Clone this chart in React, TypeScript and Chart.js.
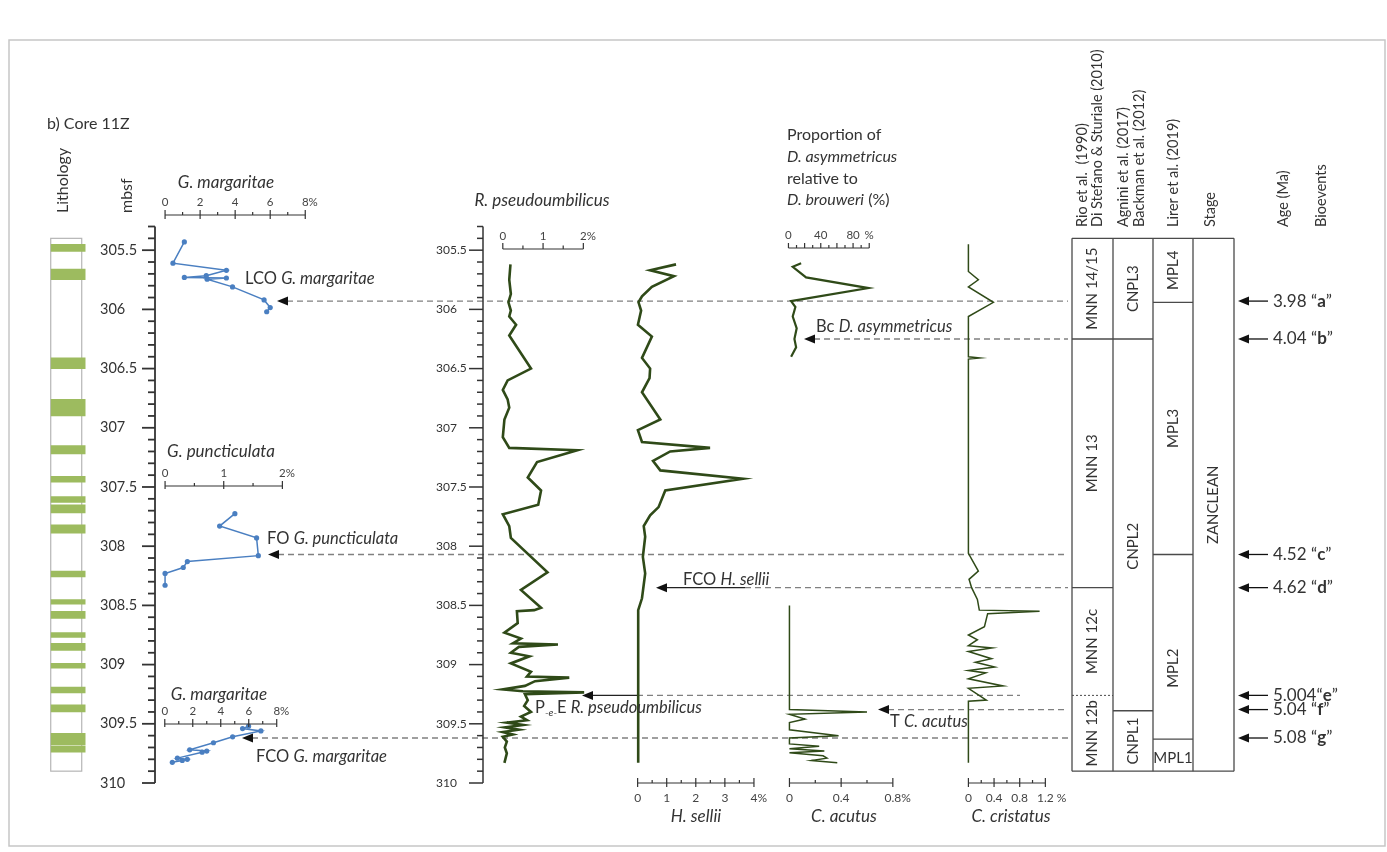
import React, { useEffect, useRef } from 'react';
import { Chart, registerables } from 'chart.js';

Chart.register(...registerables);

// ---------------- DATA ----------------
// depth axis
const DEPTH_MIN = 305.3;
const DEPTH_MAX = 310;
const depthTickLabels = ['305.5', '306', '306.5', '307', '307.5', '308', '308.5', '309', '309.5', '310'];

// lithology: green (sapropel-like) beds [top, bottom] in mbsf
const lithoTop = 305.4;
const lithoBottom = 309.9;
const lithoBeds: [number, number][] = [
  [305.45, 305.51], [305.66, 305.75], [306.41, 306.5], [306.76, 306.9], [307.15, 307.22],
  [307.41, 307.46], [307.58, 307.63], [307.65, 307.72], [307.82, 307.89], [308.21, 308.26],
  [308.45, 308.49], [308.55, 308.61], [308.73, 308.77], [308.82, 308.88], [308.99, 309.03],
  [309.19, 309.24], [309.34, 309.4], [309.58, 309.68], [309.69, 309.74],
];

// [depth, %]
const gMargaritaeUpper: [number, number][] = [
  [305.43, 1.1], [305.61, 0.45], [305.67, 3.5], [305.715, 2.35], [305.73, 1.1], [305.735, 3.5],
  [305.745, 2.4], [305.81, 3.85], [305.92, 5.65], [305.985, 6.0], [306.02, 5.8],
];
const gPuncticulata: [number, number][] = [
  [307.725, 1.19], [307.83, 0.93], [307.93, 1.56], [308.08, 1.59], [308.13, 0.38],
  [308.18, 0.31], [308.23, 0.0], [308.33, 0.0],
];
const gMargaritaeLower: [number, number][] = [
  [309.52, 5.99], [309.54, 5.56], [309.56, 6.87], [309.61, 4.85], [309.66, 3.48], [309.72, 1.78],
  [309.73, 3.0], [309.74, 2.67], [309.79, 0.9], [309.8, 1.61], [309.81, 1.25], [309.825, 0.54],
];
const rPseudoumbilicus: [number, number][] = [
  [305.62, 0.19], [305.75, 0.16], [305.87, 0.2], [305.94, 0.14], [306.01, 0.2], [306.06, 0.16],
  [306.13, 0.33], [306.22, 0.16], [306.5, 0.7], [306.6, 0.12], [306.68, 0.0], [306.76, 0.12],
  [306.83, 0.16], [306.93, 0.04], [307.08, 0.0], [307.17, 0.16], [307.19, 1.85], [307.29, 0.85],
  [307.42, 0.62], [307.53, 0.95], [307.65, 0.88], [307.73, 0.0], [307.83, 0.16], [307.93, 0.2],
  [308.22, 1.11], [308.37, 0.45], [308.52, 0.95], [308.54, 0.78], [308.55, 0.35], [308.65, 0.37],
  [308.73, 0.04], [308.78, 0.45], [308.82, 0.25], [308.83, 1.37], [308.85, 0.4], [308.9, 0.2],
  [308.93, 0.66], [308.99, 0.2], [309.06, 0.7], [309.1, 0.6], [309.11, 1.65], [309.14, 0.8],
  [309.18, 0.55], [309.21, 0.0], [309.225, 0.5], [309.235, 2.02], [309.25, 0.55], [309.3, 0.62],
  [309.35, 0.53], [309.4, 0.7], [309.44, 0.45], [309.47, 0.6], [309.49, 0.1], [309.51, 0.5],
  [309.53, 0.05], [309.55, 0.4], [309.57, 0.0], [309.59, 0.25], [309.61, 0.0], [309.65, 0.1],
  [309.7, 0.05], [309.75, 0.1], [309.83, 0.04],
];
const hSellii: [number, number][] = [
  [305.62, 1.32], [305.67, 0.43], [305.72, 1.25], [305.81, 0.49], [305.89, 0.15], [305.94, 0.03],
  [306.01, 0.12], [306.13, 0.01], [306.23, 0.49], [306.41, 0.15], [306.5, 0.43], [306.58, 0.41],
  [306.7, 0.15], [306.93, 0.78], [307.02, 0.01], [307.12, 0.15], [307.17, 2.49], [307.2, 1.12],
  [307.28, 0.53], [307.36, 0.78], [307.43, 3.62], [307.53, 0.95], [307.67, 0.72], [307.74, 0.43],
  [307.83, 0.21], [307.92, 0.26], [308.09, 0.18], [308.23, 0.26], [308.44, 0.15], [308.54, 0.02],
  [309.83, 0.02],
];
const dAsymProportion: [number, number][] = [
  [305.61, 15.7], [305.64, 5.3], [305.73, 21.8], [305.82, 99], [305.93, 3.3], [305.98, 8.6],
  [306.06, 5.3], [306.16, 10.2], [306.25, 7.4], [306.32, 9.5], [306.4, 3.3],
];
const cAcutus: [number, number][] = [
  [308.5, 0], [309.38, 0], [309.4, 0.6], [309.42, 0], [309.46, 0.12], [309.49, 0], [309.55, 0],
  [309.6, 0.38], [309.62, 0], [309.67, 0], [309.69, 0.23], [309.71, 0], [309.73, 0.27],
  [309.745, 0], [309.77, 0.26], [309.79, 0.29], [309.81, 0.17], [309.83, 0.37],
];
const cCristatus: [number, number][] = [
  [305.45, 0], [305.68, 0], [305.75, 0.155], [305.81, 0], [305.94, 0.39], [306.06, 0],
  [306.4, 0], [306.41, 0.18], [306.42, 0], [308.06, 0], [308.21, 0.155], [308.28, 0.01],
  [308.35, 0.05], [308.45, 0.14], [308.54, 0.17], [308.55, 1.11], [308.57, 0.3], [308.68, 0.25],
  [308.75, 0], [308.79, 0.14], [308.84, 0], [308.86, 0.37], [308.89, 0], [308.95, 0.36],
  [308.98, 0.11], [309.02, 0.41], [309.05, 0], [309.07, 0.27], [309.12, 0], [309.18, 0.54],
  [309.2, 0], [309.3, 0.28], [309.31, 0], [309.83, 0],
];

// bioevents
const eventLetters = ['a', 'b', 'c', 'd', 'e', 'f', 'g'];
const eventAges = ['3.98 ', '4.04 ', '4.52 ', '4.62 ', '5.004', '5.04 ', '5.08 '];
const eventDepths = [305.93, 306.25, 308.07, 308.35, 309.26, 309.38, 309.62];

// biozones (labels, boundaries in mbsf)
const mnnLabels = ['MNN 14/15', 'MNN 13', 'MNN 12c', 'MNN 12b'];
const mnnBounds = [305.4, 306.25, 308.35, 309.26, 309.9];
const cnplLabels = ['CNPL3', 'CNPL2', 'CNPL1'];
const cnplBounds = [305.4, 306.25, 309.39, 309.9];
const mplLabels = ['MPL4', 'MPL3', 'MPL2', 'MPL1'];
const mplBounds = [305.4, 305.94, 308.07, 309.63, 309.9];
const stageLabels = ['ZANCLEAN'];
const stageBounds = [305.4, 309.9];

// ---------------- LAYOUT / STYLE ----------------
const W = 1387;
const H = 852;
const PLOT_TOP = 226.5;
const PLOT_BOTTOM = 783;
const FONT = 'Lato, "Open Sans", "DejaVu Sans", sans-serif';
const INK = '#333333';
const LOG_GREEN = '#2f4a18';
const FORAM_BLUE = '#4a7fc1';
const LITHO_GREEN = '#9dbb5f';

type Seg = { id?: string; w: number; min?: number; max?: number };
const rows: Record<string, Seg[]> = {
  rowMain: [
    { w: 47 }, { id: 'xLitho', w: 35, min: 0, max: 1 }, { w: 80 },
    { id: 'xGMargTop', w: 141, min: 0, max: 8 }, { w: 198.7 },
    { id: 'xRPseudo', w: 81, min: 0, max: 2 }, { w: 54.6 },
    { id: 'xHSellii', w: 117, min: 0, max: 4 }, { w: 35.7 },
    { id: 'xCAcutus', w: 104, min: 0, max: 0.8 }, { w: 76 },
    { id: 'xCCrist', w: 77.4, min: 0, max: 1.2 },
  ],
  rowPunct: [{ w: 162 }, { id: 'xGPunct', w: 118, min: 0, max: 2 }],
  rowMargLow: [{ w: 161.7 }, { id: 'xGMargLow', w: 112.6, min: 0, max: 8 }],
  rowDAsym: [{ w: 789 }, { id: 'xDAsym', w: 81.25, min: 0, max: 100 }],
};

function buildScales() {
  const scales: any = {
    y: { type: 'linear', min: DEPTH_MIN, max: DEPTH_MAX, reverse: true, display: false },
  };
  Object.entries(rows).forEach(([stack, segs]) => {
    const used = segs.reduce((s, g) => s + g.w, 0);
    const all = [...segs, { w: W - used }];
    all.forEach((g, i) => {
      const id = g.id || `x_${stack}_sp${i}`;
      scales[id] = {
        type: 'linear', axis: 'x', position: 'bottom', stack, stackWeight: g.w,
        display: false, min: g.min ?? 0, max: g.max ?? 1,
      };
    });
  });
  return scales;
}

// event annotation geometry (arrow tip, optional solid part, dashed end, label)
type Part = [string, string];
const eventMarks: { tip: number; solidTo?: number; dashTo: number; lx: number; ly: number; parts: Part[] }[] = [
  { tip: 277, dashTo: 1068, lx: 245, ly: 279, parts: [['LCO ', ''], ['G. margaritae', 'i']] },
  { tip: 804, dashTo: 1068, lx: 816, ly: 327, parts: [['Bc ', ''], ['D. asymmetricus', 'i']] },
  { tip: 268, dashTo: 1068, lx: 267, ly: 539, parts: [['FO ', ''], ['G. puncticulata', 'i']] },
  { tip: 656, solidTo: 745, dashTo: 1068, lx: 683, ly: 580, parts: [['FCO ', ''], ['H. sellii', 'i']] },
  { tip: 582, solidTo: 637, dashTo: 1020, lx: 535, ly: 708, parts: [['P', ''], ['-e-', 'sub'], ['E ', ''], ['R. pseudoumbilicus', 'i']] },
  { tip: 878, dashTo: 1068, lx: 890, ly: 722, parts: [['T ', ''], ['C. acutus', 'i']] },
  { tip: 242, dashTo: 1068, lx: 256, ly: 757, parts: [['FCO ', ''], ['G. margaritae', 'i']] },
];

// ---------------- DRAW HELPERS ----------------
function seg(ctx: CanvasRenderingContext2D, x1: number, y1: number, x2: number, y2: number) {
  ctx.beginPath();
  ctx.moveTo(x1, y1);
  ctx.lineTo(x2, y2);
  ctx.stroke();
}
function txt(ctx: CanvasRenderingContext2D, s: string, x: number, y: number, size: number,
  o: { italic?: boolean; bold?: boolean; align?: CanvasTextAlign; color?: string } = {}) {
  ctx.font = `${o.italic ? 'italic ' : ''}${o.bold ? 'bold ' : ''}${size}px ${FONT}`;
  ctx.fillStyle = o.color || INK;
  ctx.textAlign = o.align || 'left';
  ctx.textBaseline = 'middle';
  ctx.fillText(s, x, y);
  return ctx.measureText(s).width;
}
function runs(ctx: CanvasRenderingContext2D, parts: Part[], x: number, y: number, size: number) {
  let cx = x;
  for (const [s, st] of parts) {
    if (st === 'sub') cx += txt(ctx, s, cx, y + 5, size * 0.62, { italic: true });
    else cx += txt(ctx, s, cx, y, size, { italic: st === 'i', bold: st === 'b' });
  }
  return cx - x;
}
function rot(ctx: CanvasRenderingContext2D, s: string, x: number, y: number, size: number, align: CanvasTextAlign = 'left') {
  ctx.save();
  ctx.translate(x, y);
  ctx.rotate(-Math.PI / 2);
  txt(ctx, s, 0, 0, size, { align });
  ctx.restore();
}
function arrowHead(ctx: CanvasRenderingContext2D, x: number, y: number) {
  ctx.beginPath();
  ctx.moveTo(x, y);
  ctx.lineTo(x + 11, y - 4.5);
  ctx.lineTo(x + 11, y + 4.5);
  ctx.closePath();
  ctx.fillStyle = '#111';
  ctx.fill();
}
type Lab = { v: number; t: string; s?: string };
function scaleBar(ctx: CanvasRenderingContext2D, sc: any, y: number,
  o: { majors: number[]; minors: number[]; labels: Lab[]; below?: boolean; up: number; down: number; fs: number }) {
  const px = (v: number) => sc.getPixelForValue(v);
  ctx.strokeStyle = INK;
  ctx.lineWidth = 1.2;
  ctx.setLineDash([]);
  seg(ctx, px(o.majors[0]), y, px(o.majors[o.majors.length - 1]), y);
  o.majors.forEach((v) => seg(ctx, px(v), y - o.up, px(v), y + o.down));
  o.minors.forEach((v) => seg(ctx, px(v), y - o.up * 0.6, px(v), y));
  o.labels.forEach((l) => {
    const x = px(l.v);
    const ly = o.below ? y + 15 : y - 13;
    ctx.font = `${o.fs}px ${FONT}`;
    const w = ctx.measureText(l.t).width;
    txt(ctx, l.t, x - w / 2, ly, o.fs, { color: '#444' });
    if (l.s) txt(ctx, l.s, x + w / 2, ly, o.fs, { color: '#444' });
  });
}
function depthAxis(ctx: CanvasRenderingContext2D, py: (d: number) => number, x: number, majorLen: number,
  minorLen: number, labelX: number, fs: number, lw: number) {
  ctx.strokeStyle = INK;
  ctx.lineWidth = lw;
  ctx.setLineDash([]);
  seg(ctx, x, py(DEPTH_MIN), x, py(DEPTH_MAX));
  const n = Math.round((DEPTH_MAX - DEPTH_MIN) * 10);
  for (let k = 0; k <= n; k++) {
    const d = Math.round((DEPTH_MIN + k * 0.1) * 10) / 10;
    const major = Math.abs(d * 2 - Math.round(d * 2)) < 1e-6;
    seg(ctx, x - (major ? majorLen : minorLen), py(d), x, py(d));
  }
  depthTickLabels.forEach((l) => txt(ctx, l, labelX, py(parseFloat(l)), fs));
}

const decor = {
  id: 'decor',
  beforeDraw(chart: any) {
    const ctx: CanvasRenderingContext2D = chart.ctx;
    ctx.save();
    ctx.fillStyle = '#fff';
    ctx.fillRect(0, 0, chart.width, chart.height);
    ctx.strokeStyle = '#c6c6c6';
    ctx.lineWidth = 1.5;
    ctx.strokeRect(9, 40, 1376, 806);
    ctx.restore();
  },
  beforeDatasetsDraw(chart: any) {
    const ctx: CanvasRenderingContext2D = chart.ctx;
    const py = (d: number) => chart.scales.y.getPixelForValue(d);
    ctx.save();
    // lithology column
    const lx = chart.scales.xLitho.left;
    ctx.fillStyle = '#fff';
    ctx.strokeStyle = '#b5b5b5';
    ctx.lineWidth = 1.2;
    ctx.fillRect(lx, py(lithoTop), 31, py(lithoBottom) - py(lithoTop));
    ctx.strokeRect(lx, py(lithoTop), 31, py(lithoBottom) - py(lithoTop));
    // event lines
    eventMarks.forEach((m, i) => {
      const y = py(eventDepths[i]);
      const start = m.tip + 10;
      if (m.solidTo) {
        ctx.setLineDash([]);
        ctx.strokeStyle = '#222';
        ctx.lineWidth = 1.3;
        seg(ctx, start, y, m.solidTo, y);
      }
      ctx.setLineDash([6, 4]);
      ctx.strokeStyle = '#808080';
      ctx.lineWidth = 1.3;
      seg(ctx, m.solidTo || start, y, m.dashTo, y);
    });
    ctx.restore();
  },
  afterDatasetsDraw(chart: any) {
    const ctx: CanvasRenderingContext2D = chart.ctx;
    const S = chart.scales;
    const py = (d: number) => S.y.getPixelForValue(d);
    ctx.save();
    ctx.setLineDash([]);

    // titles
    txt(ctx, 'b) Core 11Z', 47, 124, 16);
    rot(ctx, 'Lithology', 63, 213, 16);
    rot(ctx, 'mbsf', 127, 213, 16);

    // depth axes
    depthAxis(ctx, py, 155, 13, 7, 100, 14.5, 1.8);
    depthAxis(ctx, py, 483, 14, 6, 436, 12, 1.5);

    // foram scale bars
    txt(ctx, 'G. margaritae', 226, 183, 17, { italic: true, align: 'center' });
    scaleBar(ctx, S.xGMargTop, 215, {
      majors: [0, 2, 4, 6, 8], minors: [1, 3, 5, 7], up: 5, down: 4, fs: 11.5,
      labels: [{ v: 0, t: '0' }, { v: 2, t: '2' }, { v: 4, t: '4' }, { v: 6, t: '6' }, { v: 8, t: '8', s: '%' }],
    });
    txt(ctx, 'G. puncticulata', 221, 452, 17, { italic: true, align: 'center' });
    scaleBar(ctx, S.xGPunct, 486, {
      majors: [0, 1, 2], minors: [0.5, 1.5], up: 5, down: 3, fs: 11.5,
      labels: [{ v: 0, t: '0' }, { v: 1, t: '1' }, { v: 2, t: '2', s: '%' }],
    });
    txt(ctx, 'G. margaritae', 219, 695, 17, { italic: true, align: 'center' });
    scaleBar(ctx, S.xGMargLow, 724, {
      majors: [0, 2, 4, 6, 8], minors: [1, 3, 5, 7], up: 5, down: 3, fs: 11.5,
      labels: [{ v: 0, t: '0' }, { v: 2, t: '2' }, { v: 4, t: '4' }, { v: 6, t: '6' }, { v: 8, t: '8', s: '%' }],
    });

    // nannofossil scale bars
    txt(ctx, 'R. pseudoumbilicus', 542, 201, 17, { italic: true, align: 'center' });
    scaleBar(ctx, S.xRPseudo, 249, {
      majors: [0, 1, 2], minors: [0.5, 1.5], up: 6, down: 0, fs: 11.5,
      labels: [{ v: 0, t: '0' }, { v: 1, t: '1' }, { v: 2, t: '2', s: '%' }],
    });
    runs(ctx, [['Proportion of', '']], 787, 135, 16);
    runs(ctx, [['D. asymmetricus', 'i']], 787, 157, 16);
    runs(ctx, [['relative to', '']], 787, 179, 16);
    runs(ctx, [['D. brouweri', 'i'], [' (%)', '']], 787, 200, 16);
    scaleBar(ctx, S.xDAsym, 248, {
      majors: [0, 20, 40, 60, 80, 100], minors: [10, 30, 50, 70, 90], up: 5, down: 0, fs: 11.5,
      labels: [{ v: 0, t: '0' }, { v: 40, t: '40' }, { v: 80, t: '80' }, { v: 100, t: '%' }],
    });
    scaleBar(ctx, S.xHSellii, 783, {
      majors: [0, 1, 2, 3, 4], minors: [0.5, 1.5, 2.5, 3.5], up: 5, down: 4, fs: 12, below: true,
      labels: [{ v: 0, t: '0' }, { v: 1, t: '1' }, { v: 2, t: '2' }, { v: 3, t: '3' }, { v: 4, t: '4', s: '%' }],
    });
    txt(ctx, 'H. sellii', 696, 817, 17, { italic: true, align: 'center' });
    scaleBar(ctx, S.xCAcutus, 783, {
      majors: [0, 0.4, 0.8], minors: [0.2, 0.6], up: 5, down: 4, fs: 12, below: true,
      labels: [{ v: 0, t: '0' }, { v: 0.4, t: '0.4' }, { v: 0.8, t: '0.8', s: '%' }],
    });
    txt(ctx, 'C. acutus', 844, 817, 17, { italic: true, align: 'center' });
    scaleBar(ctx, S.xCCrist, 783, {
      majors: [0, 0.4, 0.8, 1.2], minors: [0.2, 0.6, 1.0], up: 5, down: 4, fs: 12, below: true,
      labels: [{ v: 0, t: '0' }, { v: 0.4, t: '0.4' }, { v: 0.8, t: '0.8' }, { v: 1.2, t: '1.2', s: ' %' }],
    });
    txt(ctx, 'C. cristatus', 1011, 817, 17, { italic: true, align: 'center' });

    // event arrows + labels
    eventMarks.forEach((m, i) => {
      arrowHead(ctx, m.tip, py(eventDepths[i]));
      runs(ctx, m.parts, m.lx, m.ly, 16.5);
    });

    // zonation table
    const colX = [1072, 1113, 1153, 1193, 1234];
    const tTop = py(stageBounds[0]);
    const tBot = py(stageBounds[stageBounds.length - 1]);
    ctx.strokeStyle = '#4a4a4a';
    ctx.lineWidth = 1.3;
    colX.forEach((x) => seg(ctx, x, tTop, x, tBot));
    seg(ctx, colX[0], tTop, colX[4], tTop);
    seg(ctx, colX[0], tBot, colX[4], tBot);
    const cols: { labels: string[]; bounds: number[]; at?: Record<number, number> }[] = [
      { labels: mnnLabels, bounds: mnnBounds },
      { labels: cnplLabels, bounds: cnplBounds, at: { 1: 308.0 } },
      { labels: mplLabels, bounds: mplBounds, at: { 2: 309.03 } },
      { labels: stageLabels, bounds: stageBounds },
    ];
    cols.forEach((c, ci) => {
      const x0 = colX[ci];
      const x1 = colX[ci + 1];
      for (let k = 1; k < c.bounds.length - 1; k++) {
        const y = py(c.bounds[k]);
        if (ci === 0 && k === 3) {
          ctx.setLineDash([2, 2]);
          ctx.lineWidth = 1;
        } else {
          ctx.setLineDash([]);
          ctx.lineWidth = 1.3;
        }
        seg(ctx, x0, y, x1, y);
      }
      ctx.setLineDash([]);
      c.labels.forEach((l, k) => {
        const d = c.at && c.at[k] !== undefined ? c.at[k] : (c.bounds[k] + c.bounds[k + 1]) / 2;
        if (l === 'MPL1') txt(ctx, l, (x0 + x1) / 2, py(d) + 3, 15, { align: 'center' });
        else rot(ctx, l, (x0 + x1) / 2, py(d), 15, 'center');
      });
    });
    // headers
    const hy = 227;
    rot(ctx, 'Rio et al.  (1990)', 1082, hy, 14.5);
    rot(ctx, 'Di Stefano & Sturiale (2010)', 1097, hy, 14.5);
    rot(ctx, 'Agnini et al. (2017)', 1123, hy, 14.5);
    rot(ctx, 'Backman et al. (2012)', 1139, hy, 14.5);
    rot(ctx, 'Lirer et al. (2019)', 1173, hy, 14.5);
    rot(ctx, 'Stage', 1210, hy, 14.5);
    rot(ctx, 'Age (Ma)', 1283, hy, 14.5);
    rot(ctx, 'Bioevents', 1321, hy, 14.5);

    // ages on the right
    ctx.strokeStyle = '#111';
    ctx.lineWidth = 1.3;
    eventLetters.forEach((letter, i) => {
      const y = py(eventDepths[i]);
      arrowHead(ctx, 1238, y);
      seg(ctx, 1248, y, 1268, y);
      runs(ctx, [[eventAges[i], ''], ['\u201C', ''], [letter, 'b'], ['\u201D', '']], 1273, y, 17);
    });
    ctx.restore();
  },
};

function lineDs(xAxisID: string, pts: [number, number][], color: string, width: number, dots = false) {
  return {
    type: 'line' as const,
    xAxisID,
    yAxisID: 'y',
    data: pts.map(([d, v]) => ({ x: v, y: d })),
    borderColor: color,
    borderWidth: width,
    pointRadius: dots ? 2.6 : 0,
    pointBackgroundColor: color,
    pointBorderColor: color,
    pointBorderWidth: 0,
    tension: 0,
    fill: false,
    clip: false as any,
    borderJoinStyle: 'miter' as const,
  };
}

export default function App() {
  const ref = useRef<HTMLCanvasElement>(null);
  useEffect(() => {
    if (!ref.current) return;
    const chart = new Chart(ref.current, {
      type: 'line',
      data: {
        datasets: [
          {
            type: 'bar',
            xAxisID: 'xLitho',
            yAxisID: 'y',
            data: lithoBeds.map(([a, b]) => ({ x: 0.5, y: [a, b] })) as any,
            backgroundColor: LITHO_GREEN,
            borderColor: '#8aa84e',
            borderWidth: 0,
            barThickness: 35,
            grouped: false,
          } as any,
          lineDs('xGMargTop', gMargaritaeUpper, FORAM_BLUE, 1.5, true),
          lineDs('xGPunct', gPuncticulata, FORAM_BLUE, 1.5, true),
          lineDs('xGMargLow', gMargaritaeLower, FORAM_BLUE, 1.5, true),
          lineDs('xRPseudo', rPseudoumbilicus, LOG_GREEN, 2.6),
          lineDs('xHSellii', hSellii, LOG_GREEN, 2.6),
          lineDs('xDAsym', dAsymProportion, LOG_GREEN, 2.2),
          lineDs('xCAcutus', cAcutus, LOG_GREEN, 1.5),
          lineDs('xCCrist', cCristatus, LOG_GREEN, 1.5),
        ] as any,
      },
      options: {
        responsive: false,
        animation: false,
        events: [],
        layout: { padding: { top: PLOT_TOP, bottom: H - PLOT_BOTTOM, left: 0, right: 0 } },
        plugins: { legend: { display: false }, tooltip: { enabled: false }, title: { display: false } },
        scales: buildScales(),
      },
      plugins: [decor],
    });
    return () => chart.destroy();
  }, []);
  return (
    <div style={{ position: 'absolute', left: 0, top: 0, width: W, height: H, background: '#fff' }}>
      <canvas ref={ref} width={W} height={H} style={{ display: 'block', width: W, height: H }} />
    </div>
  );
}
